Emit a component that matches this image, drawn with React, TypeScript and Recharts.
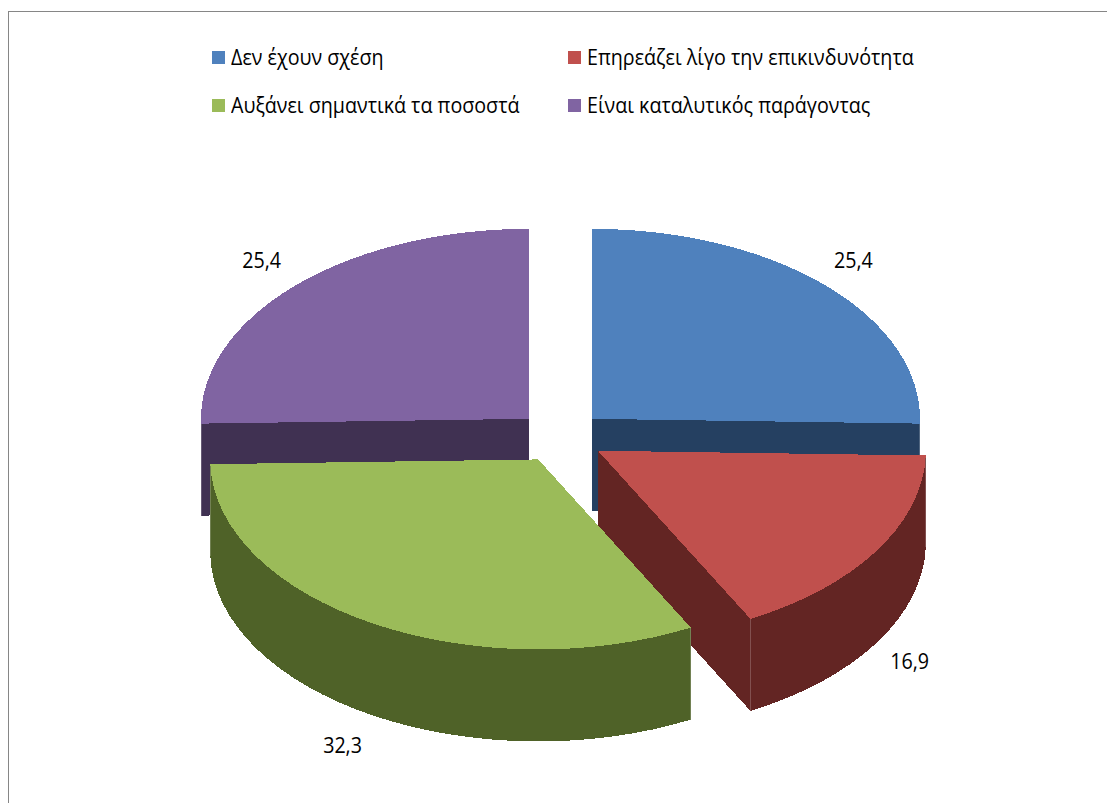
import React from 'react';
import { PieChart, Pie, Legend } from 'recharts';

const categories = [
  'Δεν έχουν σχέση',
  'Επηρεάζει λίγο την επικινδυνότητα',
  'Αυξάνει σημαντικά τα ποσοστά',
  'Είναι καταλυτικός παράγοντας',
];
const values = [25.4, 16.9, 32.3, 25.4];
const topColors = ['#4F81BD', '#C0504D', '#9BBB59', '#8064A2'];
const sideColors = ['#254061', '#632523', '#4F6228', '#403152'];

const chartData = categories.map((name, i) => ({ name, value: values[i] }));

// 3D look: the pie's circle is flattened to an ellipse and extruded downwards
const TILT = 190 / 328;
const DEPTH = 92;
const EXPLODE_X = 44;
const EXPLODE_Y = 26;
const FONT = '"Open Sans", sans-serif';
const FONT_SIZE = 22.5;
const TEXT_SQUEEZE = 0.875;
// hand placed value labels, horizontal nudge per slice
const labelNudgeX = [-4, -3, -8, -2];

const rad = (deg: number) => (deg * Math.PI) / 180;

// centre of a slice once it has been pulled out along its mid angle
function sliceCentre(p: any) {
  return {
    x: p.cx + EXPLODE_X * Math.cos(rad(p.midAngle)),
    y: p.cy - EXPLODE_Y * Math.sin(rad(p.midAngle)),
  };
}

function Slice3D(props: any) {
  const { startAngle, endAngle, outerRadius: rx, name } = props;
  const ry = rx * TILT;
  const c = sliceCentre(props);
  const i = categories.indexOf(name);
  const sx = c.x + rx * Math.cos(rad(startAngle));
  const sy = c.y - ry * Math.sin(rad(startAngle));
  const ex = c.x + rx * Math.cos(rad(endAngle));
  const ey = c.y - ry * Math.sin(rad(endAngle));
  const large = Math.abs(startAngle - endAngle) > 180 ? 1 : 0;

  const wedge = (dy: number) =>
    `M${c.x},${c.y + dy}L${sx},${sy + dy}A${rx},${ry} 0 ${large} 1 ${ex},${ey + dy}Z`;
  const rim =
    `M${sx},${sy}A${rx},${ry} 0 ${large} 1 ${ex},${ey}` +
    `L${ex},${ey + DEPTH}A${rx},${ry} 0 ${large} 0 ${sx},${sy + DEPTH}Z`;
  const wall = (x: number, y: number) =>
    `M${c.x},${c.y}L${x},${y}L${x},${y + DEPTH}L${c.x},${c.y + DEPTH}Z`;

  return (
    <g shapeRendering="crispEdges">
      <path d={wedge(DEPTH)} fill={sideColors[i]} />
      <path d={wall(sx, sy)} fill={sideColors[i]} />
      <path d={wall(ex, ey)} fill={sideColors[i]} />
      <path d={rim} fill={sideColors[i]} />
      {/* faint highlight along the vertical corners of the wall */}
      <line x1={sx} y1={sy} x2={sx} y2={sy + DEPTH} stroke="#fff" strokeOpacity={0.2} />
      <line x1={ex} y1={ey} x2={ex} y2={ey + DEPTH} stroke="#fff" strokeOpacity={0.2} />
      <path d={wedge(0)} fill={topColors[i]} />
    </g>
  );
}

// back slices are painted first so the front ones overlap their side walls
const isBack = (p: any) => Math.sin(rad(p.midAngle)) > 0;
const backShape = (p: any) => (isBack(p) ? <Slice3D {...p} /> : <g />);
const frontShape = (p: any) => (isBack(p) ? <g /> : <Slice3D {...p} />);

function sliceLabel(p: any) {
  const c = sliceCentre(p);
  const ry = p.outerRadius * TILT;
  const s = Math.sin(rad(p.midAngle));
  const x = c.x + 1.13 * p.outerRadius * Math.cos(rad(p.midAngle)) + labelNudgeX[categories.indexOf(p.name)];
  const y = c.y - 1.19 * ry * s + (s < 0 ? DEPTH : 0) - 2;
  return (
    <text
      transform={`translate(${x},${y}) scale(${TEXT_SQUEEZE},1)`}
      textAnchor="middle"
      dominantBaseline="central"
      fontFamily={FONT}
      fontSize={FONT_SIZE}
      fill="#000"
    >
      {p.value.toFixed(1).replace('.', ',')}
    </text>
  );
}

function ChartLegend() {
  return (
    <div style={{ display: 'grid', gridTemplateColumns: '356px 356px', rowGap: 20, fontFamily: FONT, fontSize: FONT_SIZE, lineHeight: '28px', color: '#000' }}>
      {categories.map((name, i) => (
        <div key={name} style={{ display: 'flex', alignItems: 'center', whiteSpace: 'nowrap' }}>
          <span style={{ flex: 'none', width: 13, height: 13, background: topColors[i], marginRight: 6 }} />
          <span style={{ flex: 'none', transform: `scaleX(${TEXT_SQUEEZE})`, transformOrigin: 'left center' }}>{name}</span>
        </div>
      ))}
    </div>
  );
}

export default function App() {
  return (
    <div style={{ position: 'fixed', left: 0, top: 0, width: 1107, height: 803, overflow: 'hidden', background: '#fff' }}>
      <div style={{ position: 'absolute', left: 8, top: 11, width: 1200, height: 900, borderTop: '1px solid #868686', borderLeft: '1px solid #868686' }} />
      <PieChart width={1107} height={803} margin={{ top: 0, right: 0, bottom: 0, left: 0 }} style={{ position: 'absolute', left: 0, top: 0 }}>
        <Pie data={chartData} dataKey="value" nameKey="name" cx={560.5} cy={437} outerRadius={328}
          startAngle={90} endAngle={-270} shape={backShape} stroke="none" isAnimationActive={false} legendType="none" />
        <Pie data={chartData} dataKey="value" nameKey="name" cx={560.5} cy={437} outerRadius={328}
          startAngle={90} endAngle={-270} shape={frontShape} stroke="none" label={sliceLabel} labelLine={false} isAnimationActive={false} legendType="none" />
        <Legend content={<ChartLegend />} wrapperStyle={{ left: 212, top: 43, width: 720, bottom: 'auto' }} />
      </PieChart>
    </div>
  );
}
